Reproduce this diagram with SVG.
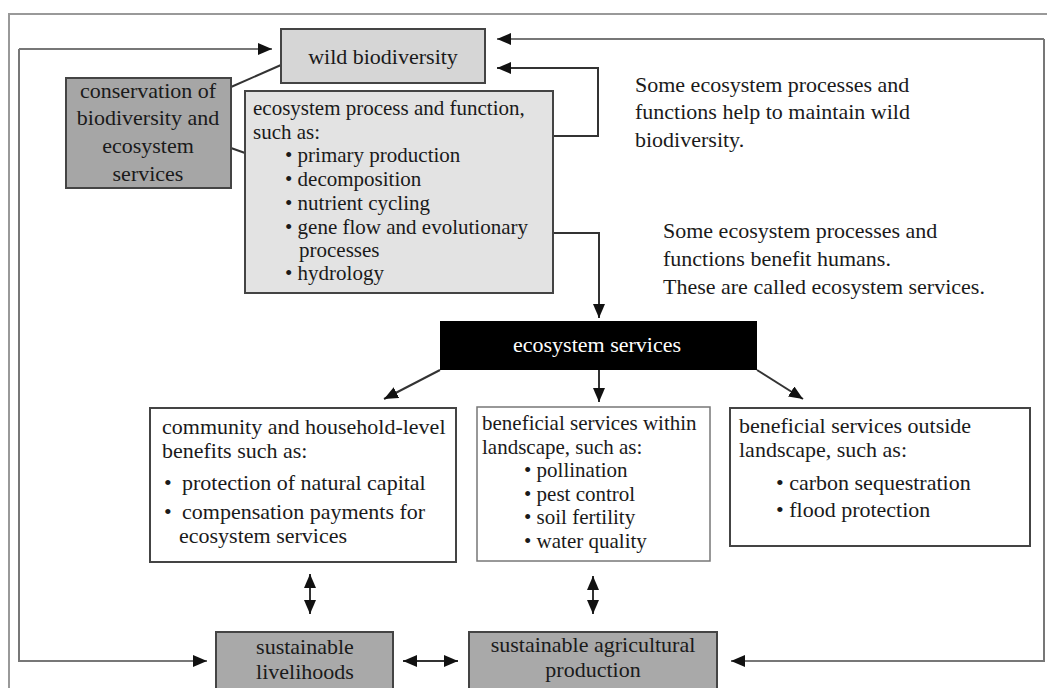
<svg xmlns="http://www.w3.org/2000/svg" width="1047" height="688" viewBox="0 0 1047 688">
<defs>
<style>
text{font-family:"Liberation Serif","Times New Roman",serif;font-size:22px;fill:#1a1a1a}
.s{font-size:21px}
.c{text-anchor:middle}
.box{stroke:#444;stroke-width:2}
.ln{fill:none;stroke:#333;stroke-width:2}
.gl{fill:none;stroke:#777;stroke-width:2}
.frame{fill:none;stroke:#999;stroke-width:2}
</style>
<marker id="ah" viewBox="0 0 14 12" refX="14" refY="6" markerWidth="14" markerHeight="12" markerUnits="userSpaceOnUse" orient="auto-start-reverse">
<path d="M0,0 L14,6 L0,12 z" fill="#111"/>
</marker>
</defs>
<rect width="1047" height="688" fill="#fff"/>
<path class="frame" d="M9,688 V14 H1047"/>

<g id="connectors">
<path class="gl" d="M19,49 V661 H207" marker-end="url(#ah)"/>
<path class="gl" d="M19,49 H272" marker-end="url(#ah)"/>
<path class="gl" d="M1044,39 H497" marker-end="url(#ah)"/>
<path class="gl" d="M1044,39 V661 H731" marker-end="url(#ah)"/>
<path class="ln" d="M553,136 H598 V68 H497" marker-end="url(#ah)"/>
<path class="ln" d="M553,233 H599 V318" marker-end="url(#ah)"/>
<path class="ln" d="M231,87 L281,65"/>
<path class="ln" d="M231,148 L245,153"/>
<path class="ln" d="M440,370 L384,399" marker-end="url(#ah)"/>
<path class="ln" d="M599,370 V402" marker-end="url(#ah)"/>
<path class="ln" d="M757,370 L803,399" marker-end="url(#ah)"/>
<path class="ln" d="M310,574 V614" marker-start="url(#ah)" marker-end="url(#ah)"/>
<path class="ln" d="M593,576 V614" marker-start="url(#ah)" marker-end="url(#ah)"/>
<path class="ln" d="M403,661 H458" marker-start="url(#ah)" marker-end="url(#ah)"/>
</g>

<g id="wild-biodiversity">
<rect class="box" x="281" y="29" width="204" height="54" fill="#d6d6d6"/>
<text class="c" x="383" y="64">wild biodiversity</text>
</g>

<g id="conservation">
<rect class="box" x="66" y="78" width="165" height="110" fill="#a6a6a6"/>
<text class="c" x="148" y="98">conservation of</text>
<text class="c" x="148" y="125">biodiversity and</text>
<text class="c" x="148" y="153">ecosystem</text>
<text class="c" x="148" y="181">services</text>
</g>

<g id="ecosystem-process" class="s">
<rect class="box" x="245" y="91" width="308" height="202" fill="#e3e3e3"/>
<text class="s" x="253" y="115">ecosystem process and function,</text>
<text class="s" x="253" y="139">such as:</text>
<text class="s" x="285" y="162">• primary production</text>
<text class="s" x="285" y="186">• decomposition</text>
<text class="s" x="285" y="210">• nutrient cycling</text>
<text class="s" x="285" y="234">• gene flow and evolutionary</text>
<text class="s" x="299" y="257">processes</text>
<text class="s" x="285" y="280">• hydrology</text>
</g>

<g id="note-1">
<text x="635" y="92">Some ecosystem processes and</text>
<text x="635" y="119">functions help to maintain wild</text>
<text x="635" y="147">biodiversity.</text>
</g>

<g id="note-2">
<text x="663" y="238">Some ecosystem processes and</text>
<text x="663" y="266">functions benefit humans.</text>
<text x="663" y="294">These are called ecosystem services.</text>
</g>

<g id="ecosystem-services">
<rect x="440" y="321" width="317" height="49" fill="#000"/>
<text class="c" x="597" y="352" style="fill:#fff">ecosystem services</text>
</g>

<g id="community">
<rect class="box" x="150" y="408" width="306" height="154" fill="#fff" stroke="#222"/>
<text x="162" y="434">community and household-level</text>
<text x="162" y="458">benefits such as:</text>
<text x="164" y="490">•</text>
<text x="182" y="490">protection of natural capital</text>
<text x="164" y="519">•</text>
<text x="182" y="519">compensation payments for</text>
<text x="179" y="543">ecosystem services</text>
</g>

<g id="within-landscape">
<rect x="477" y="407" width="233" height="154" fill="#fff" stroke="#777" stroke-width="1.5"/>
<text class="s" x="482" y="430">beneficial services within</text>
<text class="s" x="482" y="454">landscape, such as:</text>
<text class="s" x="524" y="477">• pollination</text>
<text class="s" x="524" y="501">• pest control</text>
<text class="s" x="524" y="524">• soil fertility</text>
<text class="s" x="524" y="548">• water quality</text>
</g>

<g id="outside-landscape">
<rect class="box" x="730" y="408" width="300" height="138" fill="#fff" stroke="#333"/>
<text x="739" y="433">beneficial services outside</text>
<text x="739" y="457">landscape, such as:</text>
<text x="776" y="490">• carbon sequestration</text>
<text x="776" y="517">• flood protection</text>
</g>

<g id="livelihoods">
<rect class="box" x="216" y="632" width="177" height="60" fill="#a9a9a9"/>
<text class="c" x="305" y="654">sustainable</text>
<text class="c" x="305" y="679">livelihoods</text>
</g>

<g id="agriculture">
<rect class="box" x="469" y="632" width="248" height="60" fill="#a9a9a9"/>
<text class="c" x="593" y="652">sustainable agricultural</text>
<text class="c" x="593" y="677">production</text>
</g>
</svg>
